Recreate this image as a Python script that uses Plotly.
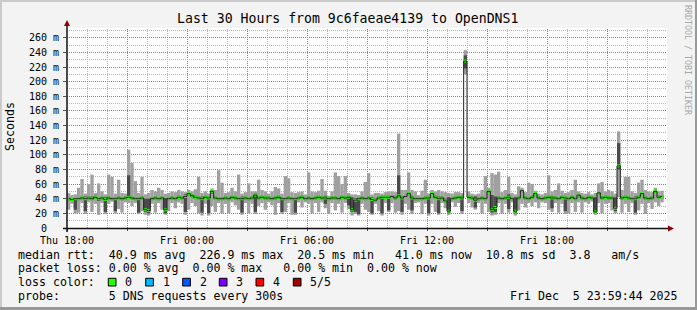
import math
import plotly.graph_objects as go
from datetime import datetime, timedelta

# ---------------- data (ms), 10-minute steps starting Thu 18:00 ----------------
START = datetime(2025, 12, 4, 18, 0)
END = datetime(2025, 12, 6, 0, 0)
STEP_MINUTES = 10

# sorted pings of each step: p1 (lowest) .. p5 (highest); p3 = median (one row = one hour)
ping1 = [25, 33, 20, 21, 34, 19,
         35, 22, 33, 18, 34, 19,
         33, 36, 20, 26, 21, 35,
         34, 30, 34, 19, 23, 18,
         17, 33, 21, 34, 25, 18,
         23, 34, 27, 35, 33, 18,
         25, 34, 30, 20, 17, 33,
         17, 30, 22, 34, 20, 33,
         20, 35, 31, 25, 18, 34,
         20, 33, 19, 30, 34, 25,
         35, 31, 18, 34, 19, 22,
         34, 18, 18, 35, 28, 35,
         33, 20, 34, 22, 35, 27,
         19, 34, 24, 33, 21, 34,
         26, 17, 19, 17, 33, 25,
         22, 18, 33, 23, 17, 34,
         22, 34, 21, 23, 18, 33,
         25, 19, 34, 35, 19, 33,
         17, 33, 22, 18, 34, 27,
         18, 35, 29, 34, 19, 210,
         34, 28, 25, 34, 20, 33,
         22, 17, 18, 34, 20, 33,
         21, 35, 17, 24, 33, 28,
         34, 30, 35, 27, 35, 34,
         25, 22, 34, 21, 33, 19,
         20, 34, 22, 35, 21, 35,
         33, 36, 18, 34, 20, 33,
         34, 24, 20, 42, 21, 33,
         22, 34, 18, 24, 33, 19,
         34, 26, 35, 30, 35, None]
ping2 = [38, 37, 25, 38, 39, 23,
         39, 38, 40, 37, 39, 22,
         39, 38, 23, 39, 38, 39,
         41, 39, 38, 21, 39, 22,
         20, 38, 39, 38, 39, 20,
         38, 39, 38, 40, 39, 22,
         45, 42, 40, 39, 21, 40,
         20, 47, 39, 38, 38, 39,
         38, 40, 39, 38, 21, 39,
         38, 39, 22, 39, 40, 39,
         39, 38, 39, 40, 22, 38,
         39, 38, 21, 39, 40, 38,
         39, 38, 39, 40, 39, 33,
         38, 39, 39, 38, 40, 39,
         31, 22, 22, 19, 39, 38,
         39, 20, 36, 39, 20, 40,
         24, 41, 39, 42, 22, 41,
         45, 24, 38, 38, 38, 39,
         20, 45, 40, 20, 39, 35,
         20, 38, 39, 40, 23, 218,
         40, 39, 28, 38, 39, 38,
         48, 21, 22, 39, 38, 39,
         26, 38, 20, 39, 49, 39,
         38, 40, 45, 39, 38, 39,
         40, 27, 39, 38, 40, 23,
         38, 40, 38, 43, 39, 38,
         40, 39, 21, 46, 39, 40,
         39, 39, 23, 80, 39, 40,
         39, 38, 21, 40, 45, 39,
         38, 39, 48, 40, 41, None]
ping3 = [40, 39, 40, 40, 41, 40,
         41, 40, 42, 40, 41, 39,
         41, 40, 40, 41, 40, 41,
         42, 41, 40, 40, 41, 25,
         24, 40, 41, 40, 41, 25,
         40, 41, 40, 42, 41, 43,
         47, 44, 42, 41, 40, 42,
         41, 50, 41, 40, 40, 41,
         40, 42, 41, 40, 40, 41,
         40, 41, 45, 41, 42, 41,
         41, 40, 41, 42, 40, 40,
         41, 40, 40, 41, 42, 40,
         41, 40, 41, 42, 41, 41,
         40, 41, 41, 40, 42, 41,
         42, 25, 38, 40, 41, 40,
         41, 39, 38, 41, 42, 42,
         42, 43, 41, 44, 41, 43,
         47, 41, 40, 40, 40, 41,
         41, 47, 42, 40, 41, 37,
         23, 40, 41, 42, 41, 228,
         42, 41, 38, 40, 41, 40,
         50, 25, 28, 41, 40, 41,
         42, 40, 23, 41, 51, 41,
         40, 42, 47, 41, 40, 41,
         42, 41, 41, 40, 42, 41,
         40, 42, 40, 45, 41, 40,
         42, 41, 22, 48, 41, 42,
         41, 41, 27, 85, 41, 42,
         41, 40, 40, 42, 47, 41,
         40, 41, 50, 42, 43, None]
ping4 = [42, 41, 41, 42, 43, 43,
         43, 43, 44, 42, 43, 42,
         43, 42, 42, 43, 42, 43,
         72, 43, 42, 42, 43, 40,
         40, 42, 43, 42, 43, 41,
         42, 43, 42, 44, 43, 46,
         48, 46, 44, 43, 43, 44,
         43, 51, 43, 42, 42, 43,
         42, 44, 43, 42, 43, 43,
         42, 43, 47, 43, 44, 43,
         43, 42, 43, 44, 42, 42,
         43, 42, 42, 43, 44, 42,
         43, 42, 43, 44, 43, 44,
         42, 43, 43, 42, 44, 43,
         44, 42, 41, 42, 43, 42,
         43, 42, 40, 43, 44, 44,
         44, 45, 43, 72, 43, 45,
         49, 44, 42, 42, 42, 43,
         43, 48, 44, 43, 43, 40,
         42, 42, 43, 44, 44, 236,
         44, 43, 43, 42, 43, 42,
         52, 45, 43, 43, 42, 43,
         46, 42, 42, 43, 52, 43,
         42, 44, 48, 43, 42, 43,
         44, 44, 43, 42, 44, 43,
         42, 44, 42, 46, 43, 42,
         44, 43, 42, 49, 43, 44,
         43, 43, 42, 116, 43, 44,
         43, 42, 43, 44, 48, 43,
         42, 43, 51, 44, 45, None]
ping5 = [48, 45, 46, 55, 67, 47,
         60, 73, 48, 61, 50, 46,
         73, 70, 47, 66, 48, 47,
         107, 89, 64, 48, 70, 46,
         48, 52, 50, 55, 52, 47,
         48, 50, 49, 52, 50, 49,
         52, 50, 53, 70, 48, 50,
         47, 54, 52, 79, 62, 48,
         49, 55, 50, 73, 47, 49,
         61, 50, 50, 66, 52, 50,
         47, 50, 56, 54, 47, 71,
         68, 49, 48, 49, 50, 46,
         76, 50, 49, 51, 67, 51,
         44, 50, 76, 71, 60, 71,
         48, 46, 46, 45, 50, 63,
         75, 46, 48, 48, 47, 49,
         50, 50, 49, 129, 52, 52,
         76, 52, 50, 45, 51, 66,
         47, 52, 50, 52, 50, 49,
         48, 47, 49, 49, 48, 243,
         50, 47, 46, 47, 52, 71,
         55, 75, 73, 77, 49, 52,
         70, 48, 46, 57, 55, 49,
         62, 60, 51, 47, 46, 48,
         72, 50, 52, 61, 51, 48,
         49, 52, 66, 50, 48, 47,
         49, 46, 48, 61, 63, 50,
         52, 50, 47, 132, 52, 70,
         70, 50, 48, 62, 66, 52,
         50, 49, 55, 50, 51, None]

MEDIAN_BOX_HALF = 2.0   # loss-colour marker half height (ms)

Y_MAX = 273.3
y_tick_values = [0, 20, 40, 60, 80, 100, 120, 140, 160, 180, 200, 220, 240, 260]
y_tick_labels = ["0\u00a0\u00a0", "20 m", "40 m", "60 m", "80 m", "100 m", "120 m",
                 "140 m", "160 m", "180 m", "200 m", "220 m", "240 m", "260 m"]
x_tick_offsets_h = [0, 3, 6, 9, 12, 15, 18, 21, 24, 27]
x_tick_labels = ["Thu 18:00", "", "Fri 00:00", "", "Fri 06:00", "", "Fri 12:00", "",
                 "Fri 18:00", ""]

title_text = "Last 30 Hours from 9c6faeae4139 to OpenDNS1"
legend_rows = [
    "median rtt:  40.9 ms avg  226.9 ms max  20.5 ms min   41.0 ms now  10.8 ms sd  3.8   am/s",
    "packet loss: 0.00 % avg  0.00 % max   0.00 % min  0.00 % now",
    "loss color:",
    "probe:       5 DNS requests every 300s",
]
stamp_text = "Fri Dec  5 23:59:44 2025"
loss_labels = ["0", "1", "2", "3", "4", "5/5"]
loss_colors = ["#26ff00", "#00b8ff", "#0059ff", "#7e00ff", "#ff0000", "#a10000"]

# ---------------- styling / geometry ----------------
W, H = 697, 310
L, R, T, B = 67, 667, 28, 228
MONO = "DejaVu Sans Mono"
LIGHT = "#a0a0a0"
DARK = "#4a4a4a"
GRID_MINOR = "#b8b8b8"
GRID_MAJOR = "#e85a5a"
TOTAL_H = (END - START).total_seconds() / 3600


def px(x):
    return (x - L) / (R - L)


def py(y):
    return (B - y) / (B - T)


def nb(s):
    return s.replace(" ", "\u00a0")


idx = [i for i, v in enumerate(ping3) if v is not None]
xs = [START + timedelta(minutes=STEP_MINUTES * (i + 0.5)) for i in idx]
width_ms = STEP_MINUTES * 60 * 1000

fig = go.Figure()
fig.add_bar(x=xs, base=[ping1[i] for i in idx], y=[ping5[i] - ping1[i] for i in idx],
            width=width_ms, marker=dict(color=LIGHT, line=dict(width=0)))
fig.add_bar(x=xs, base=[ping2[i] for i in idx], y=[ping4[i] - ping2[i] for i in idx],
            width=width_ms, marker=dict(color=DARK, line=dict(width=0)))
fig.add_scatter(x=xs, y=[ping3[i] for i in idx], mode="lines",
                line=dict(color="#202020", width=1, shape="hvh"))
fig.add_bar(x=xs, base=[ping3[i] - MEDIAN_BOX_HALF for i in idx],
            y=[2 * MEDIAN_BOX_HALF for _ in idx], width=width_ms,
            marker=dict(color=loss_colors[0], line=dict(width=0)))

tickfont = dict(family=MONO, size=10, color="#000000")
fig.update_layout(
    width=W, height=H, margin=dict(l=L, r=W - R, t=T, b=H - B),
    paper_bgcolor="#f3f3f3", plot_bgcolor="#ffffff",
    showlegend=False, barmode="overlay",
    xaxis=dict(
        type="date", range=[START, END], showline=False, zeroline=False, showgrid=False,
        tickvals=[START + timedelta(hours=h) for h in x_tick_offsets_h],
        ticktext=x_tick_labels, ticks="outside", ticklen=2, tickcolor="#505050",
        tickfont=tickfont, ticklabelstandoff=1,
    ),
    yaxis=dict(
        range=[0, Y_MAX], showline=False, zeroline=False, showgrid=False,
        tickvals=y_tick_values, ticktext=y_tick_labels, ticks="outside", ticklen=3,
        tickcolor="#505050", tickfont=tickfont, ticklabelstandoff=2,
    ),
)

shapes = []
# dotted grid (crisp, on pixel centres)
for h in range(1, int(TOTAL_H)):
    xpix = math.floor(L + (R - L) * h / TOTAL_H) + 0.5
    col = GRID_MAJOR if h % 3 == 0 else GRID_MINOR
    shapes.append(dict(type="line", xref="paper", yref="paper", x0=px(xpix), x1=px(xpix),
                       y0=0, y1=1, line=dict(color=col, width=1, dash="1px,1px"), layer="below"))
for v in range(10, int(Y_MAX) + 1, 10):
    ypix = math.floor(B - (B - T) * v / Y_MAX) + 0.5
    col = GRID_MAJOR if v % 20 == 0 else GRID_MINOR
    shapes.append(dict(type="line", xref="paper", yref="paper", x0=0, x1=1,
                       y0=py(ypix), y1=py(ypix), line=dict(color=col, width=1, dash="1px,1px"),
                       layer="below"))
# frame shading
shapes.append(dict(type="rect", xref="paper", yref="paper", x0=px(0), x1=px(W), y0=py(0), y1=py(2),
                   fillcolor="#cbcbcb", line=dict(width=0), layer="below"))
shapes.append(dict(type="rect", xref="paper", yref="paper", x0=px(0), x1=px(2), y0=py(0), y1=py(H),
                   fillcolor="#cbcbcb", line=dict(width=0), layer="below"))
shapes.append(dict(type="rect", xref="paper", yref="paper", x0=px(0), x1=px(W), y0=py(H - 3), y1=py(H),
                   fillcolor="#999999", line=dict(width=0), layer="below"))
shapes.append(dict(type="rect", xref="paper", yref="paper", x0=px(W - 2), x1=px(W), y0=py(0), y1=py(H),
                   fillcolor="#999999", line=dict(width=0), layer="below"))
# axes with arrows
shapes.append(dict(type="line", xref="paper", yref="paper", x0=px(63), x1=px(670), y0=py(228.5), y1=py(228.5),
                   line=dict(color="#101010", width=1.5)))
shapes.append(dict(type="line", xref="paper", yref="paper", x0=px(67), x1=px(67), y0=py(232), y1=py(24),
                   line=dict(color="#101010", width=1.5)))
shapes.append(dict(type="path", xref="paper", yref="paper",
                   path=f"M {px(668)} {py(225.5)} L {px(674)} {py(228.5)} L {px(668)} {py(231.5)} Z",
                   fillcolor="#8b0000", line=dict(width=0)))
shapes.append(dict(type="path", xref="paper", yref="paper",
                   path=f"M {px(64)} {py(26)} L {px(67)} {py(20)} L {px(70)} {py(26)} Z",
                   fillcolor="#8b0000", line=dict(width=0)))

annotations = []
annotations.append(dict(text=nb(title_text), x=px(347.5), y=py(18.5), xref="paper", yref="paper",
                        showarrow=False, xanchor="center", yanchor="middle",
                        font=dict(family=MONO, size=13.2, color="#000000")))
annotations.append(dict(text="Seconds", x=px(10), y=py(127), xref="paper", yref="paper",
                        showarrow=False, textangle=-90, xanchor="center", yanchor="middle",
                        font=dict(family=MONO, size=11.6, color="#000000")))
annotations.append(dict(text=nb("RRDTOOL / TOBI OETIKER"), x=px(688), y=py(60), xref="paper", yref="paper",
                        showarrow=False, textangle=90, xanchor="center", yanchor="middle",
                        font=dict(family=MONO, size=8.3, color="#a8a8a8")))
row_y = [254.7, 268.0, 282.3, 295.7]
for text, yy in zip(legend_rows, row_y):
    annotations.append(dict(text=nb(text), x=px(16), y=py(yy), xref="paper", yref="paper",
                            showarrow=False, xanchor="left", yanchor="middle",
                            font=dict(family=MONO, size=11.6, color="#000000")))
annotations.append(dict(text=nb(stamp_text), x=px(680), y=py(row_y[3]), xref="paper", yref="paper",
                        showarrow=False, xanchor="right", yanchor="middle",
                        font=dict(family=MONO, size=11.6, color="#000000")))
box_x = [108.3, 145.7, 182.7, 219.3, 256.0, 293.3]
for bx, lab, col in zip(box_x, loss_labels, loss_colors):
    shapes.append(dict(type="rect", xref="paper", yref="paper", x0=px(bx), x1=px(bx + 7.7),
                       y0=py(286), y1=py(278.3), fillcolor=col, line=dict(color="#000000", width=1)))
    annotations.append(dict(text=lab, x=px(bx + 15), y=py(row_y[2]), xref="paper", yref="paper",
                            showarrow=False, xanchor="left", yanchor="middle",
                            font=dict(family=MONO, size=11.6, color="#000000")))

fig.update_layout(shapes=shapes, annotations=annotations)
fig.write_html("out.html")
